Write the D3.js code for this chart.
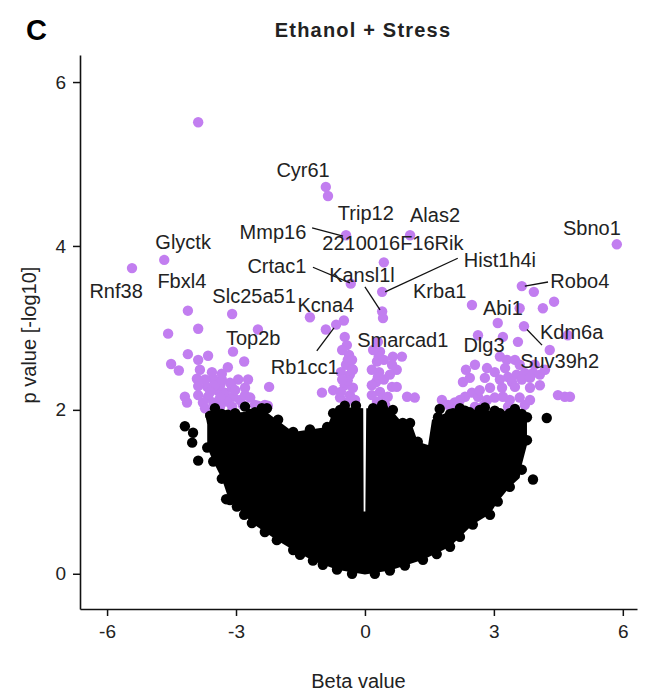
<!DOCTYPE html>
<html>
  <head>
    <meta charset="utf-8">
    <script src="https://d3js.org/d3.v7.min.js"></script>
    <style>
      body { margin: 0; background: #fff; }
      text { font-family: "Liberation Sans", Arial, sans-serif; fill: #222; }
    </style>
  </head>
  <body>
    <div class="visual"></div>
    <script>

      // significant genes (purple), beta value and -log10 p
      let sigBeta = [-3.88, -0.91, -0.86, -0.44, 1.05, -4.67, -5.42, -0.33, 0.44, 5.86, 3.65, 3.93, 0.40, 0.40, 0.42,
        -1.28, -0.49, -0.67, -0.91, -0.47, -4.12, -3.09, -4.58, -3.88, -2.49, -3.07, -4.12, -3.65, -3.88, -2.81,
        -4.51, -4.33, -3.19, -3.84, -3.91, -3.53, -2.95, -2.23, -4.19, -4.14, -3.67, -3.65, -3.44, -3.26, -3.07,
        -2.91, -3.53, -3.21, -2.56, -2.33, -3.77, -3.37, -3.09, -2.79, -1.00, -0.74,
        -3.72, -3.49, -3.33, -3.14, -3.60, -3.37, -3.02, -2.79, -2.67, -2.84, -3.09, -3.37, -3.72, -3.88, -3.88,
        -3.56, -3.33, -2.72, -2.49, -2.26,
        -0.42, -0.37, -0.44, -0.35, -0.47, -0.35, -0.44, -0.56, -0.28, -0.58, -0.23, -0.40, -0.40, -0.30,
        -0.53, -0.30, -0.53, -0.28, -0.56,
        0.30, 0.35, 0.28, 0.33, 0.26, 0.35, 0.28, 0.42, 0.16, 0.30, 0.32, 0.19, 0.44, 0.16, 0.44, 0.16, 0.47,
        0.65, 0.86, 0.63, 0.74, 0.58, 0.63, 0.74, 0.98, 1.16, 0.53,
        2.49, 3.60, 4.14, 4.40, 3.09, 3.70, 3.56, 4.30, 4.72, 2.63, 3.21, 3.14, 3.30, 3.49, 2.56, 2.84, 2.28,
        3.33, 3.53, 3.72, 3.91, 4.07, 3.42, 3.65, 3.84, 3.19, 3.49, 1.79, 2.09, 2.33, 2.49, 2.63, 2.84, 3.02,
        3.21, 3.37, 3.72, 4.49, 4.65, 4.77, 3.33, 2.56, 2.05, 2.77,
        3.02, 3.26, 3.60, 3.95, 4.19, 3.14, 3.84, 4.07, 2.91, 2.67, 2.21, 1.93, 3.60, 3.84, 2.79, 2.44, 2.35];
      let sigP = [5.51, 4.72, 4.61, 4.13, 4.13, 3.83, 3.73, 3.54, 3.80, 4.02, 3.51, 3.44, 3.44, 3.20, 3.12,
        3.13, 3.09, 3.04, 2.98, 2.89, 3.21, 3.17, 2.93, 2.99, 2.98, 2.71, 2.68, 2.66, 2.61, 2.59,
        2.56, 2.48, 2.52, 2.49, 2.38, 2.38, 2.37, 2.28, 2.16, 2.09, 2.28, 2.16, 2.24, 2.21, 2.16,
        2.12, 2.09, 2.10, 2.06, 2.06, 2.09, 2.30, 2.27, 2.18, 2.21, 2.24,
        2.37, 2.30, 2.37, 2.33, 2.22, 2.15, 2.24, 2.27, 2.15, 2.06, 2.04, 2.04, 2.02, 2.18, 2.29,
        2.46, 2.44, 2.37, 2.05, 2.05,
        2.79, 2.67, 2.55, 2.43, 2.30, 2.18, 2.09, 2.46, 2.27, 2.15, 2.12, 2.36, 2.61, 2.50,
        2.73, 2.61, 2.37, 2.49, 2.22,
        2.83, 2.71, 2.59, 2.46, 2.34, 2.22, 2.10, 2.15, 2.18, 2.40, 2.65, 2.73, 2.61, 2.49, 2.37, 2.30, 2.06,
        2.65, 2.65, 2.55, 2.49, 2.43, 2.28, 2.28, 2.16, 2.15, 2.16,
        3.28, 3.24, 3.24, 3.32, 3.06, 3.02, 2.83, 2.73, 2.91, 2.91, 2.89, 2.65, 2.61, 2.61, 2.55, 2.51, 2.34,
        2.40, 2.43, 2.45, 2.45, 2.43, 2.34, 2.37, 2.39, 2.27, 2.28, 2.12, 2.09, 2.16, 2.21, 2.16, 2.12, 2.15,
        2.16, 2.12, 2.06, 2.18, 2.16, 2.16, 2.04, 2.04, 2.07, 2.06,
        2.46, 2.51, 2.55, 2.55, 2.49, 2.37, 2.27, 2.30, 2.27, 2.24, 2.12, 2.06, 2.15, 2.12, 2.39, 2.39, 2.49];

      // outline of the dense black (non significant) cloud
      let cloudBeta = [-3.72, -2.91, -2.33, -2.05, -1.67, -1.28, -0.88, -0.74, -0.35, -0.04, -0.03, 0.01, 0.03,
        0.58, 0.81, 1.09, 1.23, 1.47, 1.56, 1.86, 2.51, 3.37, 3.77, 3.77, 3.65, 3.60, 3.37, 3.09, 2.91, 2.51,
        1.98, 1.35, 0.58, 0.00, -0.65, -1.21, -1.67, -2.05, -2.63, -2.98, -3.19, -3.33, -3.53, -3.67, -3.67];
      let cloudP = [1.96, 1.97, 1.99, 1.88, 1.73, 1.76, 1.79, 1.98, 2.03, 2.02, 0.76, 0.76, 2.02,
        2.02, 1.88, 1.82, 1.61, 1.57, 1.88, 1.96, 2.00, 1.98, 1.95, 1.57, 1.33, 1.17, 1.06, 0.88, 0.73, 0.60,
        0.33, 0.17, 0.04, -0.01, 0.05, 0.16, 0.29, 0.41, 0.62, 0.82, 0.94, 1.16, 1.37, 1.54, 1.82];

      // single black points on the edge of the cloud
      let nsBeta = [-4.19, -4.00, -4.02, -3.88, -3.67, -3.53, -3.33, -3.23, -2.86, -3.60, -3.33, -3.02, -2.67,
        -2.40, -2.28, -2.02, -1.67, -1.28, -0.88, -0.74, -0.47, -0.21, 0.19, 0.42, 0.65, 0.88, 1.05, 1.23, 1.70,
        2.05, 2.33, 2.67, 3.02, 3.37, 3.77, 4.23, 3.77, 3.65, 3.91, 3.37, 3.09, 2.91, 2.51, 2.21, 1.98, 1.67,
        1.35, 0.93, 0.58, 0.23, -0.30, -0.65, -0.98, -1.21, -1.51, -1.67, -2.05, -2.33, -2.63, -2.81, -2.98, -3.14,
        1.74, 1.98, 2.21, 2.44, 2.79, 3.14, 3.49, 3.65, -3.49, -3.19, -2.79, -2.56, -0.58, 0.40, 0.23];
      let nsP = [1.80, 1.72, 1.60, 1.38, 1.54, 1.37, 1.16, 0.91, 1.11, 1.93, 1.95, 1.96, 1.95,
        2.02, 2.02, 1.88, 1.73, 1.76, 1.79, 1.96, 2.05, 2.05, 2.02, 2.02, 2.00, 1.84, 1.84, 1.61, 1.91,
        1.96, 1.99, 2.00, 1.99, 1.96, 1.91, 1.90, 1.63, 1.27, 1.15, 1.06, 0.88, 0.72, 0.60, 0.45, 0.33, 0.24,
        0.17, 0.10, 0.04, 0.00, 0.00, 0.05, 0.11, 0.16, 0.23, 0.29, 0.41, 0.51, 0.62, 0.72, 0.82, 0.90,
        2.01, 1.95, 2.02, 1.97, 2.03, 1.96, 2.01, 1.95, 2.02, 1.94, 2.04, 1.97, 2.00, 2.06, 1.99];

      // labelled genes: name, label anchor (beta, p)
      let geneNames = ['Cyr61', 'Trip12', 'Alas2', 'Mmp16', '2210016F16Rik', 'Glyctk', 'Sbno1', 'Hist1h4i',
        'Crtac1', 'Kansl1l', 'Robo4', 'Krba1', 'Rnf38', 'Fbxl4', 'Slc25a51', 'Kcna4', 'Abi1', 'Kdm6a',
        'Top2b', 'Smarcad1', 'Dlg3', 'Suv39h2', 'Rb1cc1'];
      let geneLabelBeta = [-1.44, 0.02, 1.63, -2.14, 0.65, -4.23, 5.28, 3.14, -2.05, -0.07, 5.00, 1.74, -5.79,
        -4.26, -2.58, -0.91, 3.21, 4.81, -2.60, 0.88, 2.77, 4.53, -1.40];
      let geneLabelP = [4.84, 4.32, 4.29, 4.09, 3.95, 3.96, 4.13, 3.74, 3.67, 3.56, 3.49, 3.37, 3.37,
        3.49, 3.30, 3.20, 3.16, 2.87, 2.79, 2.77, 2.71, 2.51, 2.44];

      // leader segments [beta1, p1, beta2, p2]
      let leaders = [[-1.23, 4.22, -0.51, 4.12], [-1.21, 3.74, -0.35, 3.55], [0.00, 3.50, 0.35, 3.22],
        [0.47, 3.44, 2.16, 3.85], [3.72, 3.51, 4.26, 3.56], [3.77, 2.98, 4.12, 2.79], [-1.12, 2.72, -0.72, 3.00]];

      let xTicks = [-6, -3, 0, 3, 6];
      let yTicks = [0, 2, 4, 6];

      let width = 645;
      let height = 692;
      let margin = {left: 80, right: 8, top: 55, bottom: 83};

      let svg = d3.select('.visual').append('svg')
        .attr('width', width)
        .attr('height', height);

      let x = d3.scaleLinear()
        .domain([-6.63, 6.33])
        .range([margin.left, width - margin.right]);

      let y = d3.scaleLinear()
        .domain([-0.43, 6.33])
        .range([height - margin.bottom, margin.top]);

      let purple = '#c27ef0';
      let r = 5.2;

      // purple points
      svg.append('g').selectAll('circle')
        .data(sigBeta.map((b, i) => [b, sigP[i]]))
        .enter().append('circle')
        .attr('cx', d => x(d[0]))
        .attr('cy', d => y(d[1]))
        .attr('r', r)
        .attr('fill', purple);

      // black cloud
      let cloud = cloudBeta.map((b, i) => [b, cloudP[i]]);
      svg.append('path')
        .attr('d', d3.line().x(d => x(d[0])).y(d => y(d[1])).curve(d3.curveLinearClosed)(cloud))
        .attr('fill', '#000');

      svg.append('g').selectAll('circle')
        .data(nsBeta.map((b, i) => [b, nsP[i]]))
        .enter().append('circle')
        .attr('cx', d => x(d[0]))
        .attr('cy', d => y(d[1]))
        .attr('r', r)
        .attr('fill', '#000');

      // leader lines
      svg.append('g').selectAll('line')
        .data(leaders)
        .enter().append('line')
        .attr('x1', d => x(d[0]))
        .attr('y1', d => y(d[1]))
        .attr('x2', d => x(d[2]))
        .attr('y2', d => y(d[3]))
        .attr('stroke', '#111')
        .attr('stroke-width', 1.3);

      // gene labels
      svg.append('g').selectAll('text')
        .data(geneNames)
        .enter().append('text')
        .attr('x', (d, i) => x(geneLabelBeta[i]))
        .attr('y', (d, i) => y(geneLabelP[i]))
        .attr('text-anchor', 'middle')
        .attr('font-size', 20)
        .text(d => d);

      // axes
      svg.append('g')
        .attr('transform', 'translate(0,' + (height - margin.bottom) + ')')
        .call(d3.axisBottom(x).tickValues(xTicks).tickFormat(d => String(d))
          .tickSizeInner(7).tickSizeOuter(0).tickPadding(9));

      svg.append('g')
        .attr('transform', 'translate(' + margin.left + ',0)')
        .call(d3.axisLeft(y).tickValues(yTicks).tickFormat(d => String(d))
          .tickSizeInner(7).tickSizeOuter(0).tickPadding(7));

      svg.selectAll('.domain').attr('stroke', '#111').attr('stroke-width', 1.6);
      svg.selectAll('.tick line').attr('stroke', '#111').attr('stroke-width', 1.5);
      svg.selectAll('.tick text')
        .attr('font-size', 19)
        .attr('font-family', '"Liberation Sans", Arial, sans-serif')
        .attr('fill', '#222');

      // titles
      svg.append('text')
        .attr('x', 363)
        .attr('y', 37)
        .attr('text-anchor', 'middle')
        .attr('font-size', 20)
        .attr('font-weight', 'bold')
        .attr('letter-spacing', 1.2)
        .text('Ethanol + Stress');

      svg.append('text')
        .attr('x', 26)
        .attr('y', 40)
        .attr('font-size', 29)
        .attr('font-weight', 'bold')
        .style('fill', '#000')
        .text('C');

      svg.append('text')
        .attr('x', (margin.left + width - margin.right) / 2)
        .attr('y', 688)
        .attr('text-anchor', 'middle')
        .attr('font-size', 20)
        .text('Beta value');

      svg.append('text')
        .attr('transform', 'translate(36,' + 335 + ') rotate(-90)')
        .attr('text-anchor', 'middle')
        .attr('font-size', 20)
        .text('p value [-log10]');
    </script>
  </body>
</html>
